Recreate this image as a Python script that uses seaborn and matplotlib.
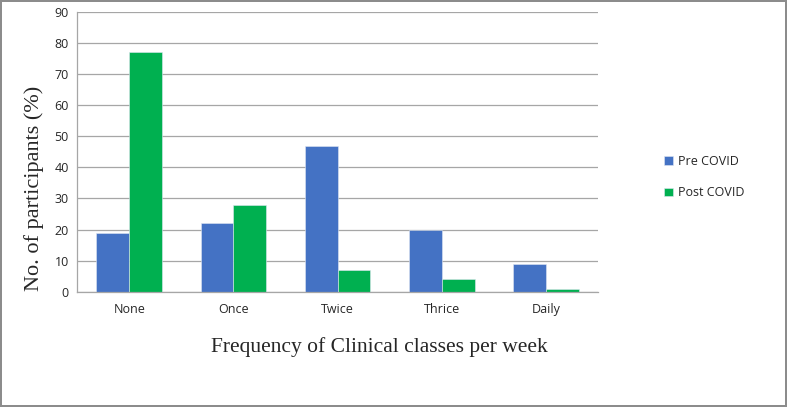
import pandas as pd
import matplotlib.pyplot as plt
import seaborn as sns

# data
categories = ['None', 'Once', 'Twice', 'Thrice', 'Daily']
pre_covid = [19, 22, 47, 20, 9]
post_covid = [77, 28, 7, 4, 1]

df = pd.DataFrame({
    'Frequency': categories * 2,
    'Percent': pre_covid + post_covid,
    'Period': ['Pre COVID'] * 5 + ['Post COVID'] * 5,
})

sns.set_style('white')
plt.rcParams['font.family'] = ['Open Sans', 'DejaVu Sans']

fig = plt.figure(figsize=(7.87, 4.07), dpi=100)
fig.patch.set_edgecolor('#8c8c8c')
fig.patch.set_linewidth(1.5)
ax = fig.add_axes([0.098, 0.283, 0.662, 0.688])

sns.barplot(
    data=df, x='Frequency', y='Percent', hue='Period',
    palette=['#4472C4', '#00B050'], saturation=1, width=0.63,
    edgecolor='#dfe6f2', linewidth=0.4, ax=ax,
)

ax.set_ylim(0, 90)
ax.set_yticks(range(0, 91, 10))
ax.set_xlim(-0.5, 4.5)
ax.yaxis.grid(True, color='#a6a6a6', linewidth=0.9)
ax.set_axisbelow(True)
for s in ['top', 'right']:
    ax.spines[s].set_visible(False)
for s in ['left', 'bottom']:
    ax.spines[s].set_color('#a6a6a6')
    ax.spines[s].set_linewidth(0.9)

ax.tick_params(axis='y', length=0, labelsize=9, pad=6)
ax.tick_params(axis='x', which='major', length=0, labelsize=9, pad=8)
ax.set_xticks([-0.5, 0.5, 1.5, 2.5, 3.5, 4.5], minor=True)
ax.tick_params(axis='x', which='minor', length=5, color='#a6a6a6', width=0.9)

ax.set_ylabel('No. of participants (%)', family='Liberation Serif', fontsize=16)
ax.yaxis.set_label_coords(-0.063, 0.37)
ax.set_xlabel('Frequency of Clinical classes per week', family='Liberation Serif', fontsize=15.5)
ax.xaxis.set_label_coords(0.58, -0.16)

ax.legend(loc='center left', bbox_to_anchor=(1.105, 0.41), frameon=False,
          fontsize=9, handlelength=0.7, handleheight=0.7, labelspacing=1.5,
          handletextpad=0.4)

fig.savefig('out.png', dpi=100)
